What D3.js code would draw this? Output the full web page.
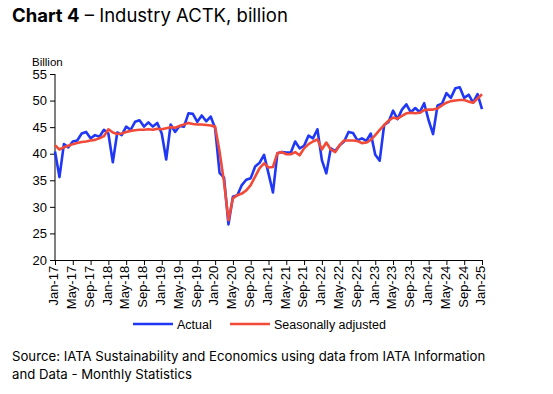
<!DOCTYPE html>
<html>
<head>
<meta charset="utf-8">
<script src="https://cdn.jsdelivr.net/npm/d3@7"></script>
<style>
  body { margin: 0; background: #fff; }
  svg { display: block; }
  .axis text { font-family: "Liberation Sans", Arial, sans-serif; font-size: 13px; fill: #000; }
  .axis path, .axis line { stroke: #000; }
</style>
</head>
<body>
<svg id="chart" width="553" height="394"></svg>
<script>
// ------------------------------------
// Data (billion ACTK, Jan-17 .. Jan-25)
// ------------------------------------
const startYear = 2017;
const monthNames = ["Jan","Feb","Mar","Apr","May","Jun","Jul","Aug","Sep","Oct","Nov","Dec"];

const actual = [
  40.4, 35.6, 41.8, 41.2, 42.3, 42.5, 43.8, 44.1, 42.9, 43.5, 43.2, 44.5,
  43.8, 38.4, 44.0, 43.5, 45.1, 44.5, 46.0, 46.3, 45.1, 45.9, 45.1, 45.8,
  43.8, 38.9, 45.5, 44.1, 45.2, 45.1, 47.6, 47.5, 46.0, 47.2, 46.1, 47.0,
  44.8, 36.4, 35.5, 26.7, 31.9, 32.2, 34.1, 35.1, 35.4, 37.6, 38.3, 39.8,
  36.3, 32.7, 40.1, 40.3, 40.2, 40.2, 42.3, 41.0, 41.5, 43.4, 42.9, 44.6,
  38.8, 36.3, 41.0, 40.5, 41.6, 42.3, 44.1, 43.9, 42.5, 42.9, 42.4, 43.8,
  39.8, 38.7, 45.4, 46.0, 48.1, 46.5, 48.3, 49.3, 47.8, 48.6, 47.8, 49.5,
  46.3, 43.7, 49.1, 49.4, 51.4, 50.5, 52.3, 52.5, 50.5, 51.1, 49.6, 51.2,
  48.4
];

const seasAdj = [
  41.6, 40.8, 41.2, 41.5, 41.8, 42.0, 42.2, 42.3, 42.5, 42.6, 42.9, 43.3,
  44.6, 44.0, 43.7, 43.8, 44.1, 44.3, 44.4, 44.5, 44.5, 44.6, 44.5, 44.7,
  44.6, 44.8, 45.0, 44.9, 45.2, 45.5, 45.8, 45.6, 45.5, 45.5, 45.4, 45.3,
  45.1, 40.4, 34.7, 27.5, 31.6, 32.2, 32.5, 33.1, 34.1, 35.7, 37.3, 38.2,
  37.4, 37.5, 40.1, 40.3, 39.9, 39.9, 40.3, 39.7, 41.0, 41.8, 42.3, 42.7,
  40.8, 42.1, 40.8, 40.3, 41.6, 42.5, 42.5, 42.5, 42.4, 42.0, 42.1, 42.6,
  43.5, 44.5, 45.4, 46.2, 46.8, 46.6, 47.1, 47.6, 47.7, 47.6, 47.7, 48.2,
  48.3, 48.3, 48.5, 49.1, 49.6, 49.9, 50.0, 50.1, 50.1, 49.8, 49.6, 50.4,
  51.2
];

const yTicks = [20, 25, 30, 35, 40, 45, 50, 55];

function monthLabel(i) {
  const yr = startYear + Math.floor(i / 12);
  return monthNames[i % 12] + "-" + String(yr).slice(2);
}

// ------------------------------------
// Draw
// ------------------------------------
const svg = d3.select("#chart");
const margin = { left: 55, right: 71, top: 74, bottom: 134 };
const width = 553, height = 394;

const x = d3.scaleLinear()
  .domain([0, actual.length - 1])
  .range([margin.left, width - margin.right]);

const y = d3.scaleLinear()
  .domain([20, 55])
  .range([height - margin.bottom, margin.top]);

// title
const title = svg.append("text")
  .attr("x", 12)
  .attr("y", 22)
  .attr("font-family", "Inter, 'Open Sans', sans-serif")
  .attr("font-size", 18.5)
  .attr("fill", "#000");
title.append("tspan").attr("font-weight", 700).text("Chart 4");
title.append("tspan").text(" \u2013 Industry ACTK, billion");

svg.append("text")
  .attr("x", 32)
  .attr("y", 66)
  .attr("font-family", "'Liberation Sans', Arial, sans-serif")
  .attr("font-size", 11.5)
  .text("Billion");

// axes
svg.append("g")
  .attr("class", "axis")
  .attr("transform", `translate(${margin.left},0)`)
  .call(d3.axisLeft(y).tickValues(yTicks).tickSize(5).tickPadding(3))
  .call(g => g.select(".domain").attr("d", `M0,${y(20)}V${y(55)}`));

const xTicks = d3.range(0, actual.length, 4);
const xAxis = svg.append("g")
  .attr("class", "axis")
  .attr("transform", `translate(0,${y(20)})`)
  .call(d3.axisBottom(x).tickValues(xTicks).tickFormat(monthLabel).tickSize(5).tickSizeOuter(0));
xAxis.selectAll("text")
  .attr("transform", "rotate(-90)")
  .attr("text-anchor", "end")
  .attr("dx", "-0.45em")
  .attr("dy", "-0.05em")
  .attr("x", 0)
  .attr("y", 0)
  .style("dominant-baseline", "middle");

// lines
const line = d3.line()
  .x((d, i) => x(i))
  .y(d => y(d));

svg.append("path")
  .datum(actual)
  .attr("fill", "none")
  .attr("stroke", "#2038f5")
  .attr("stroke-width", 2.6)
  .attr("stroke-linejoin", "round")
  .attr("d", line);

svg.append("path")
  .datum(seasAdj)
  .attr("fill", "none")
  .attr("stroke", "#f24a38")
  .attr("stroke-width", 2.6)
  .attr("stroke-linejoin", "round")
  .attr("d", line);

// legend
const legendItems = [
  { label: "Actual", color: "#2038f5", x: 133 },
  { label: "Seasonally adjusted", color: "#f24a38", x: 230 }
];
const legend = svg.append("g").attr("transform", "translate(0,324)");
legendItems.forEach(it => {
  legend.append("line")
    .attr("x1", it.x).attr("x2", it.x + 40)
    .attr("stroke", it.color).attr("stroke-width", 2.6);
  legend.append("text")
    .attr("x", it.x + 44)
    .attr("y", 4.5)
    .attr("font-family", "'Liberation Sans', Arial, sans-serif")
    .attr("font-size", 12.5)
    .text(it.label);
});

// source
const source = svg.append("text")
  .attr("font-family", "Inter, 'Open Sans', sans-serif")
  .attr("font-size", 13.2)
  .attr("fill", "#000");
source.append("tspan").attr("x", 12).attr("y", 361)
  .text("Source: IATA Sustainability and Economics using data from IATA Information");
source.append("tspan").attr("x", 12).attr("y", 379)
  .text("and Data - Monthly Statistics");
</script>
</body>
</html>
